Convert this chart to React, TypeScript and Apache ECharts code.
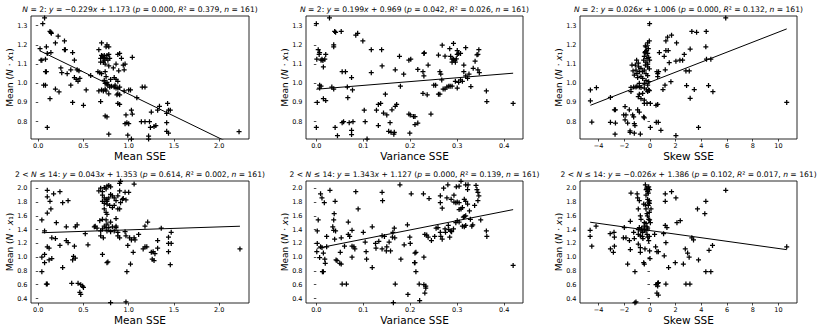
import React, { useEffect, useRef } from "react";
import * as echarts from "echarts";

// ---------- data ----------
const columnLabels = ["Mean SSE", "Variance SSE", "Skew SSE"];
const rowPrefixes = ["{i|N} = 2", "2 < {i|N} ≤ 14"];
const slopes = [
  [-0.229, 0.199, 0.026],
  [0.043, 1.343, -0.026],
];
const intercepts = [
  [1.173, 0.969, 1.006],
  [1.353, 1.127, 1.386],
];
const pValues = [
  ["0.000", "0.042", "0.000"],
  ["0.614", "0.000", "0.102"],
];
const r2Values = [
  ["0.379", "0.026", "0.132"],
  ["0.002", "0.139", "0.017"],
];
const sampleCount = 161;
const xTickValues = [
  [0, 0.5, 1.0, 1.5, 2.0],
  [0, 0.1, 0.2, 0.3, 0.4],
  [-4, -2, 0, 2, 4, 6, 8, 10],
];
const yTickValues = [
  [0.8, 0.9, 1.0, 1.1, 1.2, 1.3],
  [0.4, 0.6, 0.8, 1.0, 1.2, 1.4, 1.6, 1.8, 2.0],
];
const xRanges = [
  [-0.08, 2.33],
  [-0.022, 0.44],
  [-5.45, 11.45],
];
const yRanges = [
  [0.71, 1.35],
  [0.335, 2.105],
];

const meanSseN2 = [
  [0.07,1.34],[0.05,1.31],[0.13,1.27],[0.14,1.265],[0.145,1.26],[0.22,1.245],[0.29,1.22],[0.19,1.21],[0.09,1.19],[0.29,1.175],[0.3,1.175],[0.02,1.18],[0.14,1.16],[0.1,1.155],[0.38,1.16],[0.03,1.12],[0.04,1.12],[0.08,1.125],[0.4,1.12],[0.25,1.08],[0.36,1.07],[0.43,1.07],[0.45,1.065],[0.08,1.06],[0.09,1.06],[0.26,1.055],[0.32,1.05],[0.4,1.03],[0.42,1.02],[0.46,1.025],[0.44,1.01],[0.58,1.04],[0.06,0.99],[0.08,0.99],[0.36,0.99],[0.19,0.97],[0.23,0.955],[0.53,0.965],[0.13,0.92],[0.38,0.9],[0.5,0.885],[0.1,0.77],
  [0.7,1.21],[0.76,1.2],[0.75,1.19],[0.78,1.19],[0.67,1.175],[0.7,1.145],[0.73,1.145],[0.76,1.145],[0.78,1.15],[0.71,1.14],[0.69,1.13],[0.73,1.12],[0.77,1.12],[0.79,1.13],[0.72,1.11],[0.74,1.1],[0.69,1.11],[0.78,1.09],[0.72,1.135],[0.75,1.13],
  [0.66,1.06],[0.68,1.055],[0.7,1.05],[0.74,1.06],[0.75,1.035],[0.73,1.015],[0.74,1.0],[0.76,1.005],[0.8,1.02],[0.83,1.08],[0.86,1.1],[0.88,1.15],[0.9,1.155],[0.92,1.13],[0.94,1.095],[0.96,1.1],[0.95,1.07],[0.89,1.065],[0.84,1.03],[0.86,1.02],[0.88,1.01],[1.04,1.135],
  [0.81,0.985],[0.84,0.98],[0.86,0.975],[0.88,0.975],[0.88,0.945],[0.87,0.94],[0.9,0.94],[0.95,0.96],[1.02,0.965],[0.67,0.96],[0.72,0.96],[0.7,0.965],[0.74,0.97],[0.75,0.96],[0.69,0.905],[0.88,0.895],[0.9,0.89],[0.78,0.945],[0.74,0.83],[0.76,0.825],[0.78,0.735],[0.97,0.835],[0.96,0.79],[0.98,0.795],[1.0,0.79],[0.99,0.73],[1.03,0.71],[1.03,0.86],[1.04,0.84],[1.15,0.98],[1.18,0.98],[1.09,0.925],[1.14,0.8],[1.18,0.8],[1.23,0.8],[1.25,0.85],[1.28,0.775],[1.3,0.78],[1.24,0.77],[1.22,0.725],[1.22,0.71],[1.32,0.86],[1.34,0.88],[1.43,0.895],[1.44,0.86],[1.42,0.843],[1.46,0.86],[1.42,0.795],[1.42,0.75],[1.44,0.74],[2.22,0.748],[1.0,0.965],[0.9,0.98],[0.85,0.99],[0.79,0.98],[0.76,0.995],[0.77,0.99],
];

const varianceSseN2 = [
  [0.0,1.31],[0.028,1.34],[0.039,1.27],[0.041,1.265],[0.053,1.27],[0.084,1.25],[0.088,1.26],[0.099,1.22],[0.037,1.2],[0.037,1.19],[0.004,1.175],[0.007,1.16],[0.006,1.15],[0.02,1.15],[0.117,1.175],[0.139,1.175],[0.001,1.125],[0.01,1.12],[0.014,1.118],[0.018,1.125],[0.012,1.125],[0.015,1.085],[0.055,1.06],[0.062,1.06],[0.075,1.03],[0.066,0.98],[0.077,0.965],[0.033,0.98],[0.037,0.97],[0.007,0.99],[0.01,0.985],[0.007,0.975],[0.002,0.9],[0.015,0.92],[0.02,0.91],[0.067,0.925],[0.0,0.77],[0.04,0.77],[0.045,0.727],[0.051,0.707],[0.055,0.795],[0.058,0.8],[0.07,0.795],[0.078,0.8],[0.075,0.755],[0.075,0.733],[0.102,0.86],[0.104,0.8],[0.108,0.71],[0.117,1.055],[0.128,0.86],[0.132,0.89],[0.137,0.895],[0.132,0.78],[0.14,1.09],[0.143,0.845],[0.15,0.835],[0.147,0.943],[0.154,0.75],[0.159,0.745],[0.157,0.795],[0.161,0.862],[0.165,0.735],[0.166,0.745],[0.168,0.88],[0.171,0.89],[0.168,1.07],[0.177,1.14],[0.179,0.985],[0.186,1.047],[0.197,1.12],[0.201,1.125],[0.197,0.84],[0.2,0.835],[0.199,0.74],[0.207,0.827],[0.21,0.827],[0.21,0.785],[0.216,0.793],[0.216,1.072],[0.227,1.06],[0.229,1.038],[0.229,1.155],[0.23,1.158],[0.227,0.947],[0.236,0.94],[0.238,1.095],[0.244,0.84],[0.25,0.99],[0.254,0.99],[0.26,1.147],[0.263,1.06],[0.265,1.048],[0.26,0.943],[0.263,0.943],[0.267,1.017],[0.268,1.198],[0.274,1.141],[0.27,0.97],[0.274,0.97],[0.278,0.98],[0.282,0.985],[0.285,0.985],[0.289,0.985],[0.284,1.18],[0.286,1.14],[0.289,1.125],[0.292,1.125],[0.289,1.11],[0.296,1.11],[0.295,1.12],[0.298,1.127],[0.292,1.207],[0.3,1.15],[0.303,1.155],[0.307,1.155],[0.3,1.17],[0.296,1.01],[0.303,1.005],[0.3,0.975],[0.307,1.017],[0.311,1.01],[0.314,1.095],[0.314,1.06],[0.318,1.038],[0.318,1.185],[0.322,1.026],[0.325,1.048],[0.329,0.983],[0.334,1.078],[0.338,1.115],[0.342,1.148],[0.344,1.15],[0.346,1.175],[0.344,1.07],[0.347,1.055],[0.362,0.96],[0.363,0.905],[0.419,0.895],
];

const skewSseN2 = [
  [-0.03,1.31],[5.9,1.34],[1.68,1.25],[3.26,1.27],[3.63,1.265],[4.38,1.27],[1.37,1.24],[1.24,1.22],[2.07,1.21],[-0.18,1.21],[-0.05,1.22],[-0.31,1.19],[-0.36,1.195],[3.13,1.178],[1.24,1.17],[1.42,1.17],[4.35,1.19],[2.67,1.15],[0.73,1.16],[1.11,1.14],[2.02,1.115],[2.33,1.12],[2.54,1.12],[4.4,1.125],[4.74,1.125],[1.5,1.107],[-1.14,1.095],[-1.4,1.095],[2.8,1.064],[3.06,1.064],[1.19,1.07],[0.54,1.06],[0.67,1.06],[0.6,1.05],[0.6,1.035],[1.63,1.008],[1.17,0.99],[1.01,0.967],[2.85,0.988],[4.56,0.988],[3.45,0.967],[4.9,0.956],[3.13,0.922],[-4.64,0.965],[-4.64,0.909],[-4.17,0.977],[-4.53,0.798],[-3.08,0.926],[-2.77,0.862],[-2.69,0.862],[-3.08,0.797],[-2.69,0.793],[-2.72,0.735],[-2.88,0.707],[-2.05,0.835],[-1.87,0.835],[-1.94,0.879],[-1.61,0.862],[-1.74,0.793],[-1.55,0.745],[-1.55,0.752],[-1.17,0.78],[-1.22,0.79],[-0.75,0.736],[-1.22,0.74],[-1.35,0.835],[-1.27,0.825],[-1.48,0.957],[-1.27,0.98],[-1.09,0.98],[-0.83,0.98],[-0.96,0.862],[-0.83,0.85],[-0.49,0.825],[-0.44,0.82],[-0.44,0.895],[-0.1,0.965],[-0.18,0.957],[0.03,0.77],[-0.03,0.707],[0.49,0.797],[0.65,0.797],[0.6,0.89],[0.47,0.885],[0.85,0.755],[2.02,0.728],[3.78,0.77],[10.65,0.9],[-1.94,0.81],
  [-0.39,1.16],[-0.31,1.155],[-0.18,1.155],[-0.44,1.14],[-0.23,1.13],[-0.1,1.135],[-0.49,1.12],[-0.31,1.11],[-0.18,1.1],[-0.03,1.12],[-0.36,1.095],[-0.18,1.085],[-0.05,1.075],[-0.7,1.078],[-0.57,1.06],[-0.44,1.068],[-0.31,1.05],[-0.18,1.04],[-0.7,1.036],[-0.57,1.025],[-0.31,1.015],[-0.1,1.008],[-0.44,1.0],[-0.18,0.99],[-0.83,1.0],[-1.01,0.985],[-0.7,0.978],[-0.44,0.975],[-0.26,0.965],[-0.05,0.962],[-0.57,0.947],[-0.83,0.943],[-0.91,0.93],[-0.7,0.92],[-0.44,0.912],[-0.23,0.895],[0.03,0.895],[-0.91,1.105],[-1.04,1.12],[-0.88,1.085],[-1.01,1.05],[-1.09,1.068],[-0.83,1.06],[-1.32,1.064],[-1.22,1.043],[-0.96,1.03],[-1.48,0.978],[-0.26,1.17],[-0.13,1.18],[-0.36,1.165],
];

const meanSseN14 = [
  [0.1,1.97],[0.1,1.875],[0.13,1.81],[0.24,1.95],[0.17,1.92],[0.27,1.79],[0.33,1.82],[0.14,1.7],[0.1,1.64],[0.04,1.54],[0.2,1.5],[0.07,1.38],[0.31,1.44],[0.41,1.44],[0.43,1.47],[0.62,1.44],[0.63,1.45],[0.19,1.27],[0.15,1.28],[0.31,1.24],[0.33,1.21],[0.24,1.17],[0.4,1.16],[0.55,1.18],[0.52,1.34],[0.1,1.15],[0.12,1.13],[0.04,1.0],[0.07,1.04],[0.07,0.92],[0.15,0.98],[0.12,0.96],[0.39,1.01],[0.41,0.985],[0.38,0.96],[0.27,0.85],[0.04,0.79],[0.09,0.61],[0.1,0.61],[0.37,0.62],[0.44,0.62],[0.47,0.6],[0.49,0.58],[0.5,0.56],[0.46,0.49],[0.47,0.46],
  [0.67,1.96],[0.69,2.0],[0.71,1.95],[0.73,2.01],[0.75,1.99],[0.76,2.03],[0.78,2.04],[0.8,2.02],[0.71,1.9],[0.73,1.86],[0.75,1.83],[0.76,1.84],[0.71,1.81],[0.73,1.78],[0.76,1.77],[0.76,1.81],[0.78,1.86],[0.8,1.91],[0.82,1.89],[0.84,1.86],[0.88,1.89],[0.9,2.07],[0.91,2.1],[0.9,1.96],[0.91,1.79],[0.93,1.84],[0.86,1.82],[0.79,1.75],[0.82,1.72],[0.84,1.75],[0.88,1.7],[0.73,1.7],[0.75,1.65],[0.76,1.62],[0.71,1.55],[0.75,1.54],[0.86,1.56],[0.8,1.51],[0.76,1.48],[0.73,1.45],[0.75,1.43],[0.78,1.43],[0.82,1.44],[0.86,1.43],[0.71,1.41],[0.69,1.38],[0.76,1.38],[0.8,1.37],[0.84,1.38],[0.88,1.36],[0.88,1.31],[0.9,1.28],[0.86,1.45],[0.69,1.31],[0.72,1.28],[0.65,1.42],[0.68,1.53],
  [0.71,1.04],[0.76,0.92],[0.77,0.93],[0.8,0.34],[0.96,1.37],[0.97,1.31],[1.01,1.28],[1.03,1.25],[1.06,1.28],[1.07,1.25],[0.99,1.17],[1.05,1.07],[1.02,0.9],[0.98,0.79],[0.97,0.35],[0.96,1.94],[1.0,1.94],[1.06,2.06],[0.94,1.85],[0.97,1.83],[0.9,1.7],[1.11,1.33],[1.18,1.45],[1.21,1.51],[1.16,1.12],[1.18,1.15],[1.2,1.15],[1.25,1.07],[1.27,1.08],[1.29,1.05],[1.26,0.97],[1.28,0.95],[1.32,1.24],[1.32,1.13],[1.36,1.42],[1.44,1.29],[1.44,1.2],[1.47,1.2],[1.47,1.36],[1.44,1.08],[1.46,0.89],[2.23,1.12],
];

const varianceSseN14 = [
  [0.002,1.38],[0.004,1.54],[0.002,1.2],[0.001,1.08],[0.007,0.995],[0.009,1.92],[0.012,1.86],[0.017,1.79],[0.009,1.15],[0.012,1.14],[0.015,1.06],[0.013,0.79],[0.015,0.79],[0.018,0.97],[0.019,0.91],[0.022,1.3],[0.022,1.15],[0.029,1.97],[0.035,1.44],[0.037,1.54],[0.038,1.63],[0.04,1.81],[0.037,1.39],[0.041,1.38],[0.039,1.26],[0.042,0.96],[0.044,0.95],[0.05,0.91],[0.053,0.9],[0.051,1.07],[0.053,1.28],[0.055,0.61],[0.064,0.61],[0.06,1.16],[0.068,1.51],[0.068,1.33],[0.071,1.3],[0.076,1.39],[0.076,1.16],[0.08,1.15],[0.076,1.0],[0.082,1.12],[0.084,1.95],[0.089,1.7],[0.1,1.36],[0.104,1.22],[0.106,1.08],[0.107,0.97],[0.119,0.85],[0.119,1.44],[0.126,1.2],[0.133,1.23],[0.14,1.31],[0.145,1.3],[0.14,1.94],[0.141,1.82],[0.127,1.13],[0.14,1.12],[0.15,1.15],[0.149,1.09],[0.155,1.22],[0.158,1.09],[0.162,1.29],[0.163,1.36],[0.164,0.34],[0.166,1.42],[0.167,1.28],[0.168,0.61],[0.178,2.05],[0.18,0.97],[0.187,1.18],[0.194,1.47],[0.199,1.29],[0.2,1.2],[0.202,1.92],[0.195,0.46],[0.21,1.06],[0.212,1.07],[0.21,0.92],[0.209,0.92],[0.212,0.79],[0.219,0.61],[0.22,0.37],[0.229,0.6],[0.233,0.58],[0.233,0.55],[0.231,0.48],[0.228,1.92],[0.231,1.33],[0.235,1.32],[0.238,1.29],[0.229,1.0],[0.24,1.85],[0.245,1.24],[0.252,1.3],[0.255,1.42],[0.259,1.43],[0.264,1.89],[0.264,1.79],[0.268,1.71],[0.264,1.36],[0.265,1.3],[0.268,1.26],[0.271,2.0],[0.274,1.41],[0.275,1.36],[0.278,1.86],[0.28,2.05],[0.281,1.46],[0.282,1.4],[0.284,1.29],[0.286,1.38],[0.288,1.37],[0.292,1.41],[0.287,1.84],[0.293,1.8],[0.293,1.9],[0.297,1.79],[0.3,1.8],[0.304,1.79],[0.297,1.5],[0.3,1.53],[0.304,1.51],[0.298,2.02],[0.304,2.03],[0.308,2.1],[0.304,1.69],[0.308,1.7],[0.311,1.72],[0.311,1.45],[0.315,1.44],[0.318,1.46],[0.313,1.58],[0.315,1.59],[0.318,1.6],[0.315,1.84],[0.318,1.81],[0.322,1.77],[0.318,2.05],[0.322,1.98],[0.323,2.05],[0.326,1.67],[0.328,1.55],[0.331,1.45],[0.333,1.47],[0.337,1.75],[0.34,2.04],[0.342,1.98],[0.344,1.94],[0.346,1.89],[0.344,1.82],[0.35,1.54],[0.362,1.38],[0.363,1.3],[0.419,0.88],
];

const skewSseN14 = [
  [-4.66,1.39],[-4.66,1.3],[-4.53,1.16],[-4.2,1.45],[-3.1,1.34],[-2.8,1.36],[-2.77,1.29],[-2.77,1.16],[-2.85,1.07],[-3.08,1.12],[-2.07,1.28],[-1.87,1.28],[-2.0,1.43],[-1.74,0.9],[-1.48,1.93],[-1.53,1.52],[-1.6,1.24],[-1.53,1.11],[-1.22,1.27],[-1.27,1.36],[-1.17,0.79],[-1.17,0.34],[-1.09,0.35],[-1.0,1.92],[-0.96,1.86],[-0.91,1.7],[-0.83,1.82],[-0.75,1.6],[-0.7,1.55],[-0.91,1.4],[-0.83,1.43],[-0.7,1.38],[-0.65,1.42],[-0.91,1.33],[-0.75,1.31],[-0.57,1.36],[-0.91,1.19],[-0.75,1.14],[-0.75,1.07],[-0.49,0.92],[-0.44,0.9],[-0.44,1.5],[-0.31,1.49],[-0.36,2.05],[-0.26,2.0],[-0.18,1.95],[-0.1,2.02],[-0.31,1.9],[-0.18,1.84],[-0.05,1.82],[-0.13,1.93],[-0.31,1.7],[-0.23,1.63],[-0.49,1.77],[-0.36,1.76],[-0.44,1.4],[-0.31,1.38],[-0.18,1.42],[-0.23,1.33],[-0.44,1.45],[-0.23,1.44],[-0.18,1.29],[-0.05,1.3],[-0.1,1.24],[-0.13,1.75],[-0.05,1.65],[-0.03,1.09],[0.0,0.98],[-0.1,1.55],[-0.03,1.54],[0.03,1.5],[0.08,1.7],[-0.39,1.12],[-0.05,1.78],[-0.1,1.8],[-0.2,1.6],[-0.55,1.27],[-0.6,1.3],[-0.3,1.98],[-0.15,2.0],[-0.05,1.98],
  [0.36,1.33],[0.44,1.15],[0.54,1.08],[0.65,1.08],[0.47,0.6],[0.6,0.62],[0.65,0.63],[0.54,0.48],[0.65,0.45],[0.6,0.58],[1.06,1.34],[1.11,1.02],[1.19,1.92],[1.19,1.81],[1.19,1.46],[1.32,1.43],[1.24,1.21],[1.24,0.61],[1.45,0.85],[1.68,1.95],[1.97,0.92],[2.02,1.86],[2.1,1.5],[2.36,1.53],[2.6,0.9],[2.75,1.12],[2.93,1.06],[3.05,1.0],[2.8,0.61],[3.11,0.61],[3.26,1.28],[3.39,1.25],[3.7,1.7],[3.78,0.96],[4.27,1.63],[4.35,1.81],[4.35,0.79],[4.74,0.79],[4.6,1.1],[4.87,1.17],[5.9,1.97],[10.65,1.15],
];

const panelData = [
  [meanSseN2, varianceSseN2, skewSseN2],
  [meanSseN14, varianceSseN14, skewSseN14],
];

// ---------- layout ----------
const gridLefts = [31, 306, 580];
const gridWidths = [218, 217, 217];
const gridTops = [16, 181];
const gridHeights = [123, 122];
const FONT = "DejaVu Sans";
const PLUS = "path://M5,0L5,10M0,5L10,5";

function fmtTick(v: number, col: number, isX: boolean) {
  if (isX && col === 2) {
    const r = Math.round(v);
    return r < 0 ? "\u2212" + Math.abs(r) : String(r);
  }
  return v.toFixed(1);
}

export default function App() {
  const ref = useRef<HTMLDivElement>(null);
  useEffect(() => {
    document.body.style.margin = "0";
    if (!ref.current) return;
    const chart = echarts.init(ref.current, null, { renderer: "svg" });

    const grids: any[] = [];
    const xAxes: any[] = [];
    const yAxes: any[] = [];
    const series: any[] = [];
    const graphics: any[] = [];
    const italic = { fontStyle: "italic", fontSize: 7.6, fontFamily: FONT, fill: "#000", color: "#000" };

    for (let r = 0; r < 2; r++) {
      for (let c = 0; c < 3; c++) {
        const idx = r * 3 + c;
        grids.push({
          left: gridLefts[c],
          top: gridTops[r],
          width: gridWidths[c],
          height: gridHeights[r],
          show: true,
          borderColor: "#111",
          borderWidth: 0.9,
          backgroundColor: "transparent",
          containLabel: false,
        });
        xAxes.push({
          type: "value",
          gridIndex: idx,
          min: xRanges[c][0],
          max: xRanges[c][1],
          axisLine: { show: false },
          splitLine: { show: false },
          axisTick: {
            show: true,
            customValues: xTickValues[c],
            length: 2.5,
            lineStyle: { color: "#000", width: 0.7 },
          },
          axisLabel: {
            customValues: xTickValues[c],
            formatter: (v: number) => fmtTick(v, c, true),
            fontSize: 6.5,
            fontFamily: FONT,
            color: "#000",
            margin: 3.5,
          },
        });
        yAxes.push({
          type: "value",
          gridIndex: idx,
          min: yRanges[r][0],
          max: yRanges[r][1],
          axisLine: { show: false },
          splitLine: { show: false },
          axisTick: {
            show: true,
            customValues: yTickValues[r],
            length: 2.5,
            lineStyle: { color: "#000", width: 0.7 },
          },
          axisLabel: {
            customValues: yTickValues[r],
            formatter: (v: number) => fmtTick(v, c, false),
            fontSize: 6.5,
            fontFamily: FONT,
            color: "#000",
            margin: 3.5,
          },
        });
        const pts = panelData[r][c];
        series.push({
          type: "scatter",
          xAxisIndex: idx,
          yAxisIndex: idx,
          data: pts,
          symbol: PLUS,
          symbolSize: 5,
          clip: true,
          itemStyle: { color: "none", borderColor: "#000", borderWidth: 1.25, opacity: 1 },
          silent: true,
        });
        const xs = pts.map((p) => p[0]);
        const x0 = Math.min(...xs);
        const x1 = Math.max(...xs);
        const m = slopes[r][c];
        const b = intercepts[r][c];
        series.push({
          type: "line",
          xAxisIndex: idx,
          yAxisIndex: idx,
          data: [
            [x0, m * x0 + b],
            [x1, m * x1 + b],
          ],
          showSymbol: false,
          symbol: "none",
          clip: true,
          lineStyle: { color: "#000", width: 1 },
          silent: true,
        });

        const cx = gridLefts[c] + gridWidths[c] / 2;
        const sign = m < 0 ? "\u2212" : "";
        const title =
          `${rowPrefixes[r]}: {i|y} = ${sign}${Math.abs(m).toFixed(3)}{i|x} + ${b.toFixed(3)} ` +
          `({i|p} = ${pValues[r][c]}, {i|R}² = ${r2Values[r][c]}, {i|n} = ${sampleCount})`;
        graphics.push({
          type: "text",
          x: cx,
          y: gridTops[r] - 6.5,
          style: {
            text: title,
            fontSize: 7.6,
            fontFamily: FONT,
            fill: "#000",
            align: "center",
            verticalAlign: "middle",
            textAlign: "center",
            textVerticalAlign: "middle",
            rich: { i: italic },
          },
        });
        graphics.push({
          type: "text",
          x: cx,
          y: gridTops[r] + gridHeights[r] + 16.5,
          style: {
            text: columnLabels[c],
            fontSize: 10.5,
            fontFamily: FONT,
            fill: "#000",
            align: "center",
            verticalAlign: "middle",
            textAlign: "center",
            textVerticalAlign: "middle",
          },
        });
        graphics.push({
          type: "text",
          x: gridLefts[c] - 21,
          y: gridTops[r] + gridHeights[r] / 2,
          rotation: Math.PI / 2,
          style: {
            text: "Mean ({i|N} · {i|x}₁)",
            fontSize: 9,
            fontFamily: FONT,
            fill: "#000",
            align: "center",
            verticalAlign: "middle",
            textAlign: "center",
            textVerticalAlign: "middle",
            rich: { i: { ...italic, fontSize: 9 } },
          },
        });
      }
    }

    chart.setOption({
      animation: false,
      backgroundColor: "#fff",
      grid: grids,
      xAxis: xAxes,
      yAxis: yAxes,
      series,
      graphic: graphics,
    });
    return () => chart.dispose();
  }, []);
  return <div ref={ref} style={{ width: 830, height: 332 }} />;
}
